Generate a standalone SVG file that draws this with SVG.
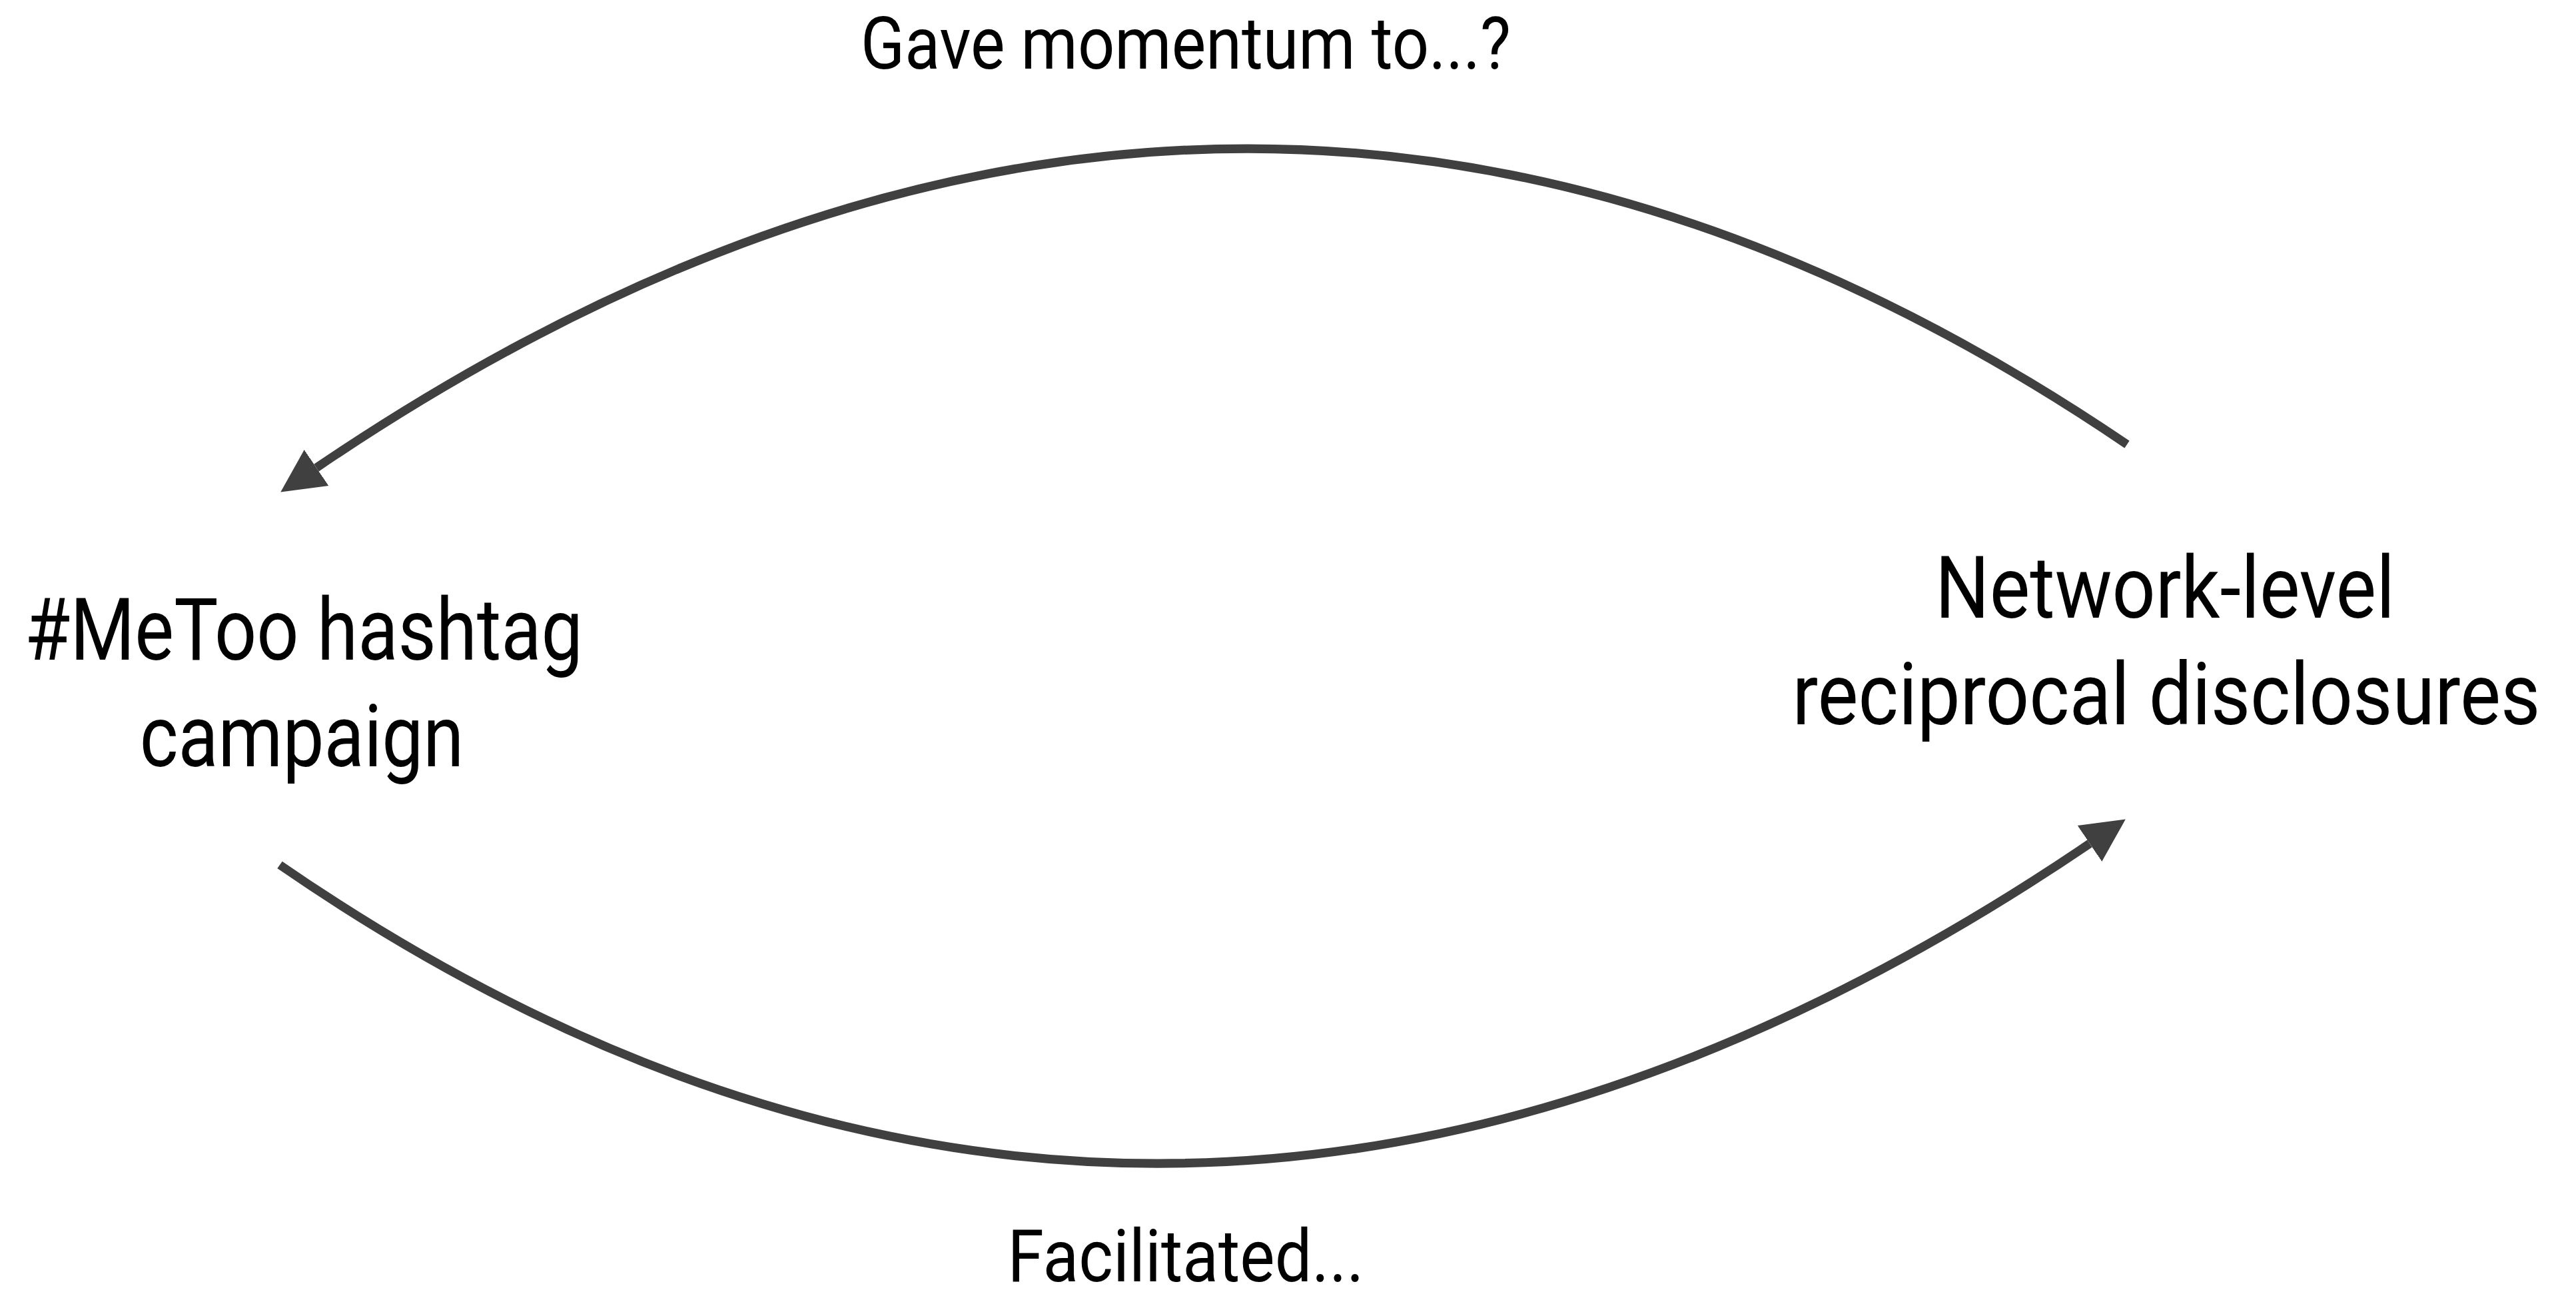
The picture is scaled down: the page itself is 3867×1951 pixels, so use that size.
<svg xmlns="http://www.w3.org/2000/svg" width="3867" height="1951" viewBox="0 0 3867 1951">
  <style>
    .lbl { font-family: Roboto, "Liberation Sans", sans-serif; fill: #000; text-anchor: middle; }
    .node { font-size: 130px; }
    .edge-lbl { font-size: 110px; }
    .conn { fill: none; stroke: #404040; stroke-width: 13; stroke-linecap: butt; }
  </style>
  <defs>
    <marker id="arrow" markerUnits="userSpaceOnUse" markerWidth="70" markerHeight="70" viewBox="0 -35 70 70" refX="0" refY="0" orient="auto">
      <path d="M0,-32.5 L65,0 L0,32.5 Z" fill="#404040"/>
    </marker>
  </defs>
  <rect width="3867" height="1951" fill="#ffffff"/>
  <g id="connectors">
    <path class="conn" d="M3193,667 Q1860,-238 475,702" marker-end="url(#arrow)"/>
    <path class="conn" d="M420,1298 Q1744,2210 3137,1266" marker-end="url(#arrow)"/>
    <text class="lbl edge-lbl" x="1780" y="103" textLength="976" lengthAdjust="spacingAndGlyphs">Gave momentum to...?</text>
    <text class="lbl edge-lbl" x="1780" y="1923" textLength="535" lengthAdjust="spacingAndGlyphs">Facilitated...</text>
  </g>
  <g id="node-metoo" transform="scale(0.88,1)">
    <text class="lbl node" x="518.2" y="990" textLength="952" lengthAdjust="spacingAndGlyphs">#MeToo hashtag</text>
    <text class="lbl node" x="514.8" y="1150" textLength="553" lengthAdjust="spacingAndGlyphs">campaign</text>
  </g>
  <g id="node-network" transform="scale(0.88,1)">
    <text class="lbl node" x="3693.2" y="927" textLength="784" lengthAdjust="spacingAndGlyphs">Network-level</text>
    <text class="lbl node" x="3695.5" y="1087" textLength="1276" lengthAdjust="spacingAndGlyphs">reciprocal disclosures</text>
  </g>
</svg>
